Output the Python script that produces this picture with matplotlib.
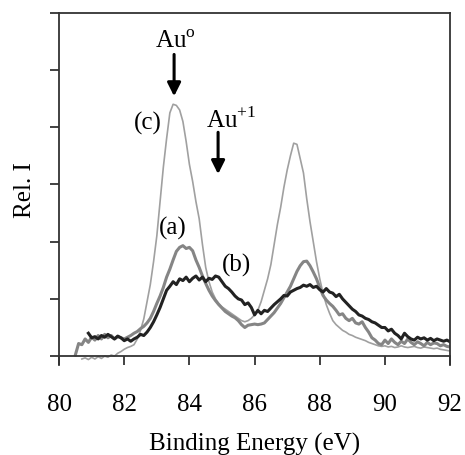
import numpy as np
import matplotlib
matplotlib.use("Agg")
import matplotlib.pyplot as plt

plt.rcParams['font.family'] = ['Liberation Serif', 'DejaVu Serif']
plt.rcParams['mathtext.fontset'] = 'custom'
plt.rcParams['mathtext.rm'] = 'Liberation Serif'

# Curve (c): thin light gray
c_start = 80.7
c_vals = [-0.05, -0.03, -0.06,
          -0.02, -0.05, -0.01, -0.04, 0.0, -0.02, 0.02, 0.0, 0.05, 0.08,
          0.12, 0.15, 0.17, 0.2, 0.3, 0.45, 0.65, 0.95, 1.25, 1.65,
          2.1, 2.7, 3.3, 3.8, 4.25, 4.4, 4.38, 4.3, 4.1, 3.75,
          3.35, 3.05, 2.7, 2.4, 1.95, 1.55, 1.3, 1.12, 1.0, 0.92,
          0.86, 0.82, 0.78, 0.74, 0.7, 0.66, 0.62, 0.6, 0.62, 0.66,
          0.72, 0.8, 0.95, 1.15, 1.35, 1.6, 1.95, 2.3, 2.6, 2.95,
          3.25, 3.5, 3.72, 3.7, 3.45, 3.2, 2.75, 2.35, 2.0, 1.65,
          1.35, 1.1, 0.9, 0.75, 0.62, 0.55, 0.5, 0.45, 0.42, 0.38,
          0.36, 0.33, 0.31, 0.29, 0.27, 0.24, 0.22, 0.2, 0.18, 0.17,
          0.18, 0.16, 0.17, 0.15, 0.16, 0.18, 0.16, 0.15, 0.16, 0.17,
          0.15, 0.14, 0.16, 0.15, 0.14, 0.13, 0.14, 0.12, 0.11, 0.1,
          0.09]

# Curve (a): thick medium gray
a_start = 80.5
a_vals = [0.02, 0.22, 0.2, 0.3, 0.24,
          0.33, 0.28, 0.36, 0.3, 0.38, 0.32, 0.36, 0.3, 0.34, 0.32,
          0.3, 0.33, 0.36, 0.4, 0.43, 0.48, 0.52, 0.58, 0.66, 0.78,
          0.92, 1.05, 1.2, 1.38, 1.52, 1.68, 1.83, 1.9, 1.93, 1.88,
          1.9, 1.84, 1.68, 1.55, 1.4, 1.27, 1.15, 1.05, 0.97, 0.9,
          0.84, 0.78, 0.74, 0.7, 0.67, 0.62, 0.55, 0.5, 0.54, 0.55,
          0.56, 0.55, 0.56, 0.58, 0.64, 0.7, 0.76, 0.84, 0.92, 1.02,
          1.12, 1.22, 1.35, 1.48, 1.58, 1.65, 1.66, 1.58, 1.47, 1.35,
          1.2, 1.06, 0.98, 0.92, 0.87, 0.8, 0.72, 0.74, 0.66, 0.62,
          0.66, 0.58, 0.56, 0.6, 0.5, 0.42, 0.32, 0.28, 0.22, 0.2,
          0.28, 0.22, 0.3, 0.24, 0.2, 0.26, 0.22, 0.3, 0.24, 0.2,
          0.25, 0.22, 0.18, 0.24, 0.2, 0.23, 0.22, 0.18, 0.2, 0.17,
          0.16]

# Curve (b): thick black
b_start = 80.9
b_vals = [0.4,
          0.32, 0.34, 0.3, 0.36, 0.33, 0.38, 0.34, 0.3, 0.35, 0.32,
          0.27, 0.3, 0.26, 0.3, 0.33, 0.38, 0.36, 0.42, 0.5, 0.6,
          0.72, 0.85, 1.0, 1.15, 1.22, 1.3, 1.25, 1.35, 1.32, 1.38,
          1.3, 1.36, 1.4, 1.33, 1.38, 1.3, 1.36, 1.34, 1.4, 1.38,
          1.3, 1.22, 1.18, 1.12, 1.05, 1.0, 0.98, 0.9, 0.93, 0.85,
          0.72, 0.8, 0.74, 0.8, 0.78, 0.84, 0.9, 0.95, 1.0, 1.06,
          1.05, 1.12, 1.15, 1.18, 1.2, 1.24, 1.22, 1.25, 1.2, 1.22,
          1.16, 1.12, 1.18, 1.12, 1.1, 1.04, 1.08, 1.0, 0.94, 0.88,
          0.82, 0.78, 0.72, 0.7, 0.66, 0.64, 0.6, 0.58, 0.54, 0.5,
          0.5, 0.44, 0.47, 0.4, 0.36, 0.3, 0.4, 0.34, 0.3, 0.28,
          0.33, 0.3, 0.32, 0.28, 0.31, 0.27, 0.3, 0.28, 0.26, 0.28,
          0.25]

x_ticks = [80, 82, 84, 86, 88, 90, 92]
y_ticks = [0, 1, 2, 3, 4, 5, 6]

def energies(start, vals):
    return np.round(start + 0.1 * np.arange(len(vals)), 2)

fig = plt.figure(figsize=(4.65, 4.56), dpi=100)
ax = fig.add_axes([0.127, 0.198, 0.841, 0.772])

ax.plot(energies(c_start, c_vals), c_vals, color='#a0a0a0', lw=1.2, zorder=3)
ax.plot(energies(a_start, a_vals), a_vals, color='#858585', lw=2.2, zorder=4)
ax.plot(energies(b_start, b_vals), b_vals, color='#222222', lw=2.2, zorder=5)

ax.set_xlim(80, 92)
ax.set_ylim(-0.15, 6)
ax.spines['bottom'].set_position(('data', 0))
for name in ['top', 'right', 'left', 'bottom']:
    s = ax.spines[name]
    s.set_visible(True)
    s.set_color('#333333')
    s.set_linewidth(1.3)
    s.set_zorder(6)

ax.set_xticks(x_ticks)
ax.set_xticklabels([str(t) for t in x_ticks])
ax.set_yticks(y_ticks)
ax.set_yticklabels([])
ax.tick_params(axis='x', direction='out', length=6.5, width=1.3, color='#333333',
               labelsize=18, pad=20)
ax.tick_params(axis='y', direction='out', length=6.5, width=1.3, color='#333333')

ax.set_xlabel('Binding Energy (eV)', fontsize=18)
ax.xaxis.set_label_coords(0.5, -0.19)
ax.set_ylabel('Rel. I', fontsize=18)
ax.yaxis.set_label_coords(-0.058, 0.5)

ax.text(83.56, 5.4, 'Au$^{\\mathrm{o}}$', fontsize=18, ha='center', va='baseline')
ax.annotate('', xy=(83.53, 4.54), xytext=(83.53, 5.27),
            arrowprops=dict(arrowstyle='-|>', lw=2.2, mutation_scale=20, color='black',
                            shrinkA=0, shrinkB=0))
ax.text(85.28, 4.0, 'Au$^{\\mathrm{+1}}$', fontsize=18, ha='center', va='baseline')
ax.annotate('', xy=(84.88, 3.18), xytext=(84.88, 3.91),
            arrowprops=dict(arrowstyle='-|>', lw=2.2, mutation_scale=20, color='black',
                            shrinkA=0, shrinkB=0))

ax.text(82.73, 4.09, '(c)', fontsize=18, ha='center', va='center')
ax.text(83.5, 2.25, '(a)', fontsize=18, ha='center', va='center')
ax.text(85.43, 1.6, '(b)', fontsize=18, ha='center', va='center')

fig.savefig('out.png', dpi=100)
